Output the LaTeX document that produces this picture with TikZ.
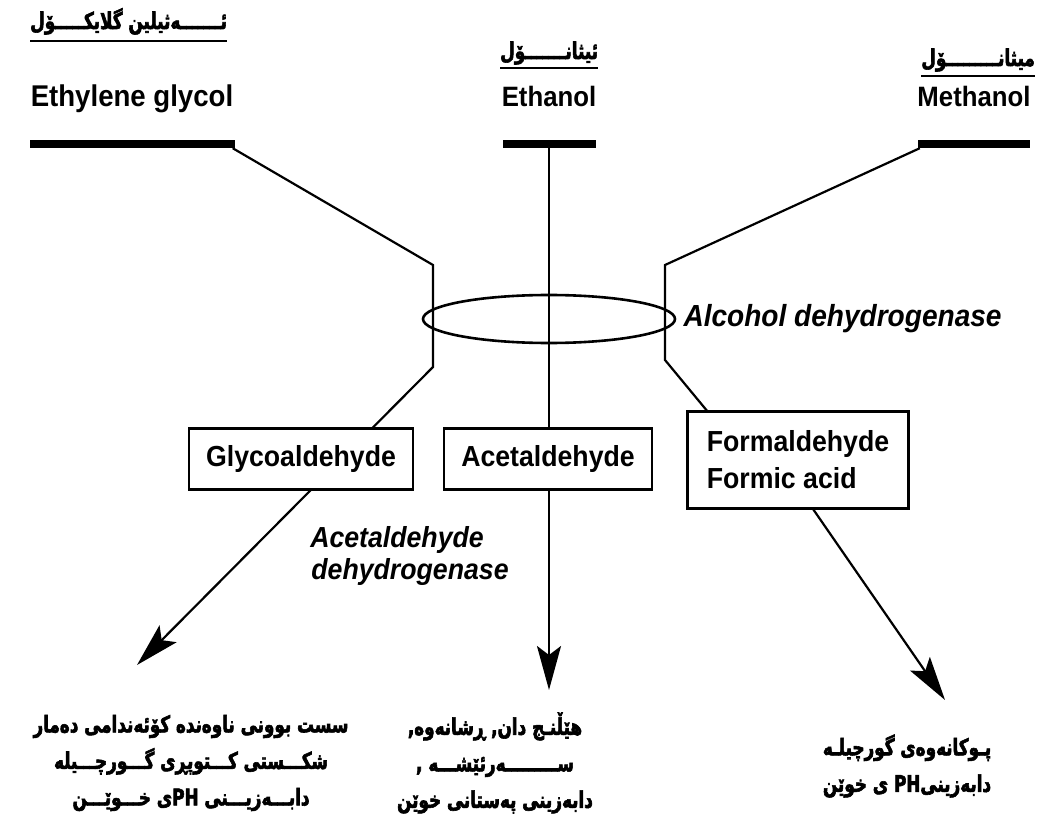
\documentclass[tikz,border=0pt]{standalone}
\usepackage{fontspec}
\setmainfont[UprightFont=* Bold,ItalicFont=* Bold Italic,FakeStretch=0.92]{Liberation Sans}
\newfontfamily\kufont[Script=Arabic,FakeStretch=0.73,BoldFeatures={FakeBold=2.5}]{DejaVu Sans}
\TeXXeTstate=1
\usetikzlibrary{arrows.meta,shapes.geometric,positioning}
\tikzset{
  lbl/.style={font=\fontsize{28}{32}\selectfont,inner sep=0pt,anchor=base},     % alcohol name
  bar/.style={fill=black,inner sep=0pt,minimum height=8pt},                     % thick bar
  chem/.style={draw=black,line width=2.2pt,fill=white,inner sep=0pt,
    font=\fontsize{29}{37}\selectfont},                                         % intermediate
  tox/.style={line width=2.2pt,-{Stealth[length=44pt,width=24pt,inset=9pt]}},
  ring/.style={ellipse,draw=black,line width=2.6pt,inner sep=0pt,
    minimum width=252pt,minimum height=48pt},
  enz/.style={font=\fontsize{29}{34}\selectfont\itshape,inner sep=0pt},
  ku/.style={font=\kufont\bfseries\fontsize{23}{36.5}\selectfont,inner sep=0pt,align=center},
  kuhead/.style={font=\kufont\bfseries\fontsize{23}{24}\selectfont,inner sep=0pt},
  uline/.style={line width=2.6pt},
}
\begin{document}
\begin{tikzpicture}[x=1pt,y=-1pt]
  \useasboundingbox (0,0) rectangle (1049,826);
  % alcohols
  \node[lbl,font=\fontsize{30}{32}\selectfont] (eg) at (132,107) {Ethylene glycol};
  \node[lbl] (et) at (549,107) {Ethanol};
  \node[lbl] (me) at (974,107) {Methanol};
  \node[bar,minimum width=205pt] (egbar) at (132,144) {};
  \node[bar,minimum width=93pt] (etbar) at (549,144) {};
  \node[bar,minimum width=112pt] (mebar) at (974,144) {};
  % kurdish names, underlined
  \node[kuhead,anchor=base west] (egku) at (30,29) {\beginR ئـــــــەثیلین گلایکـــــۆل\endR};
  \node[kuhead,anchor=base west] (etku) at (500,59) {\beginR ئیثانـــــــۆل\endR};
  \node[kuhead,anchor=base east] (meku) at (1035,66) {\beginR میثانـــــــــۆل\endR};
  \draw[uline] ([yshift=-12pt]egku.base west) -- ([yshift=-12pt]egku.base east);
  \draw[uline] ([yshift=-9pt]etku.base west) -- ([yshift=-9pt]etku.base east);
  \draw[uline] ([yshift=-10pt]meku.base west) -- ([yshift=-10pt]meku.base east);
  % pathways
  \coordinate (egk1) at (433,265);
  \coordinate (egk2) at (433,367);
  \coordinate (egtip) at (137,665);
  \coordinate (ettip) at (549,690);
  \coordinate (mek1) at (665,265);
  \coordinate (mek2) at (665,360);
  \coordinate (mek3) at (708,412);
  \coordinate (mek4) at (813,509);
  \coordinate (metip) at (945,700);
  \draw[tox] ([xshift=-2pt]egbar.south east) -- (egk1) -- (egk2) -- (egtip);
  \draw[tox] (etbar.south) -- (ettip);
  \draw[tox] ([xshift=2pt]mebar.south west) -- (mek1) -- (mek2) -- (mek3) -- (mek4) -- (metip);
  % enzymes
  \node[ring] (adh) at (549,319) {};
  \node[enz,right=7pt of adh,font=\fontsize{30.5}{34}\selectfont\itshape] (adhtxt) {Alcohol dehydrogenase};
  \node[enz] (acdh) at (397,540) {Acetaldehyde};
  \node[enz] (acdh2) at (410,572) {dehydrogenase};
  % intermediates
  \node[chem,minimum width=224pt,minimum height=61pt] (gald) at (301,459) {Glycoaldehyde};
  \node[chem,minimum width=208pt,minimum height=61pt] (ald) at (548,459) {Acetaldehyde};
  \node[chem,minimum width=221pt,minimum height=97pt,align=left] (fald) at (798,460) {Formaldehyde\\Formic acid};
  % effects
  \node[ku] (egfx) at (191,763) {\beginR سست بوونی ناوەندە کۆئەندامی دەمار\endR\\
    \beginR شکـــستی کـــتوپڕی گـــورچـــیلە\endR\\
    \beginR دابـــەزیـــنی \beginL PH\endL ی خـــوێـــن\endR};
  \node[ku] (etfx) at (495,763) {\beginR هێڵنـج دان, ڕشانەوە,\endR\\
    \beginR ســـــــــەرئێشـــە ,\endR\\
    \beginR دابەزینی پەستانی خوێن\endR};
  \node[ku] (mefx) at (907,766) {\beginR پـوکانەوەی گورچیلـە\endR\\
    \beginR دابەزینی\beginL PH\endL{} ی خوێن\endR};
\end{tikzpicture}
\end{document}
